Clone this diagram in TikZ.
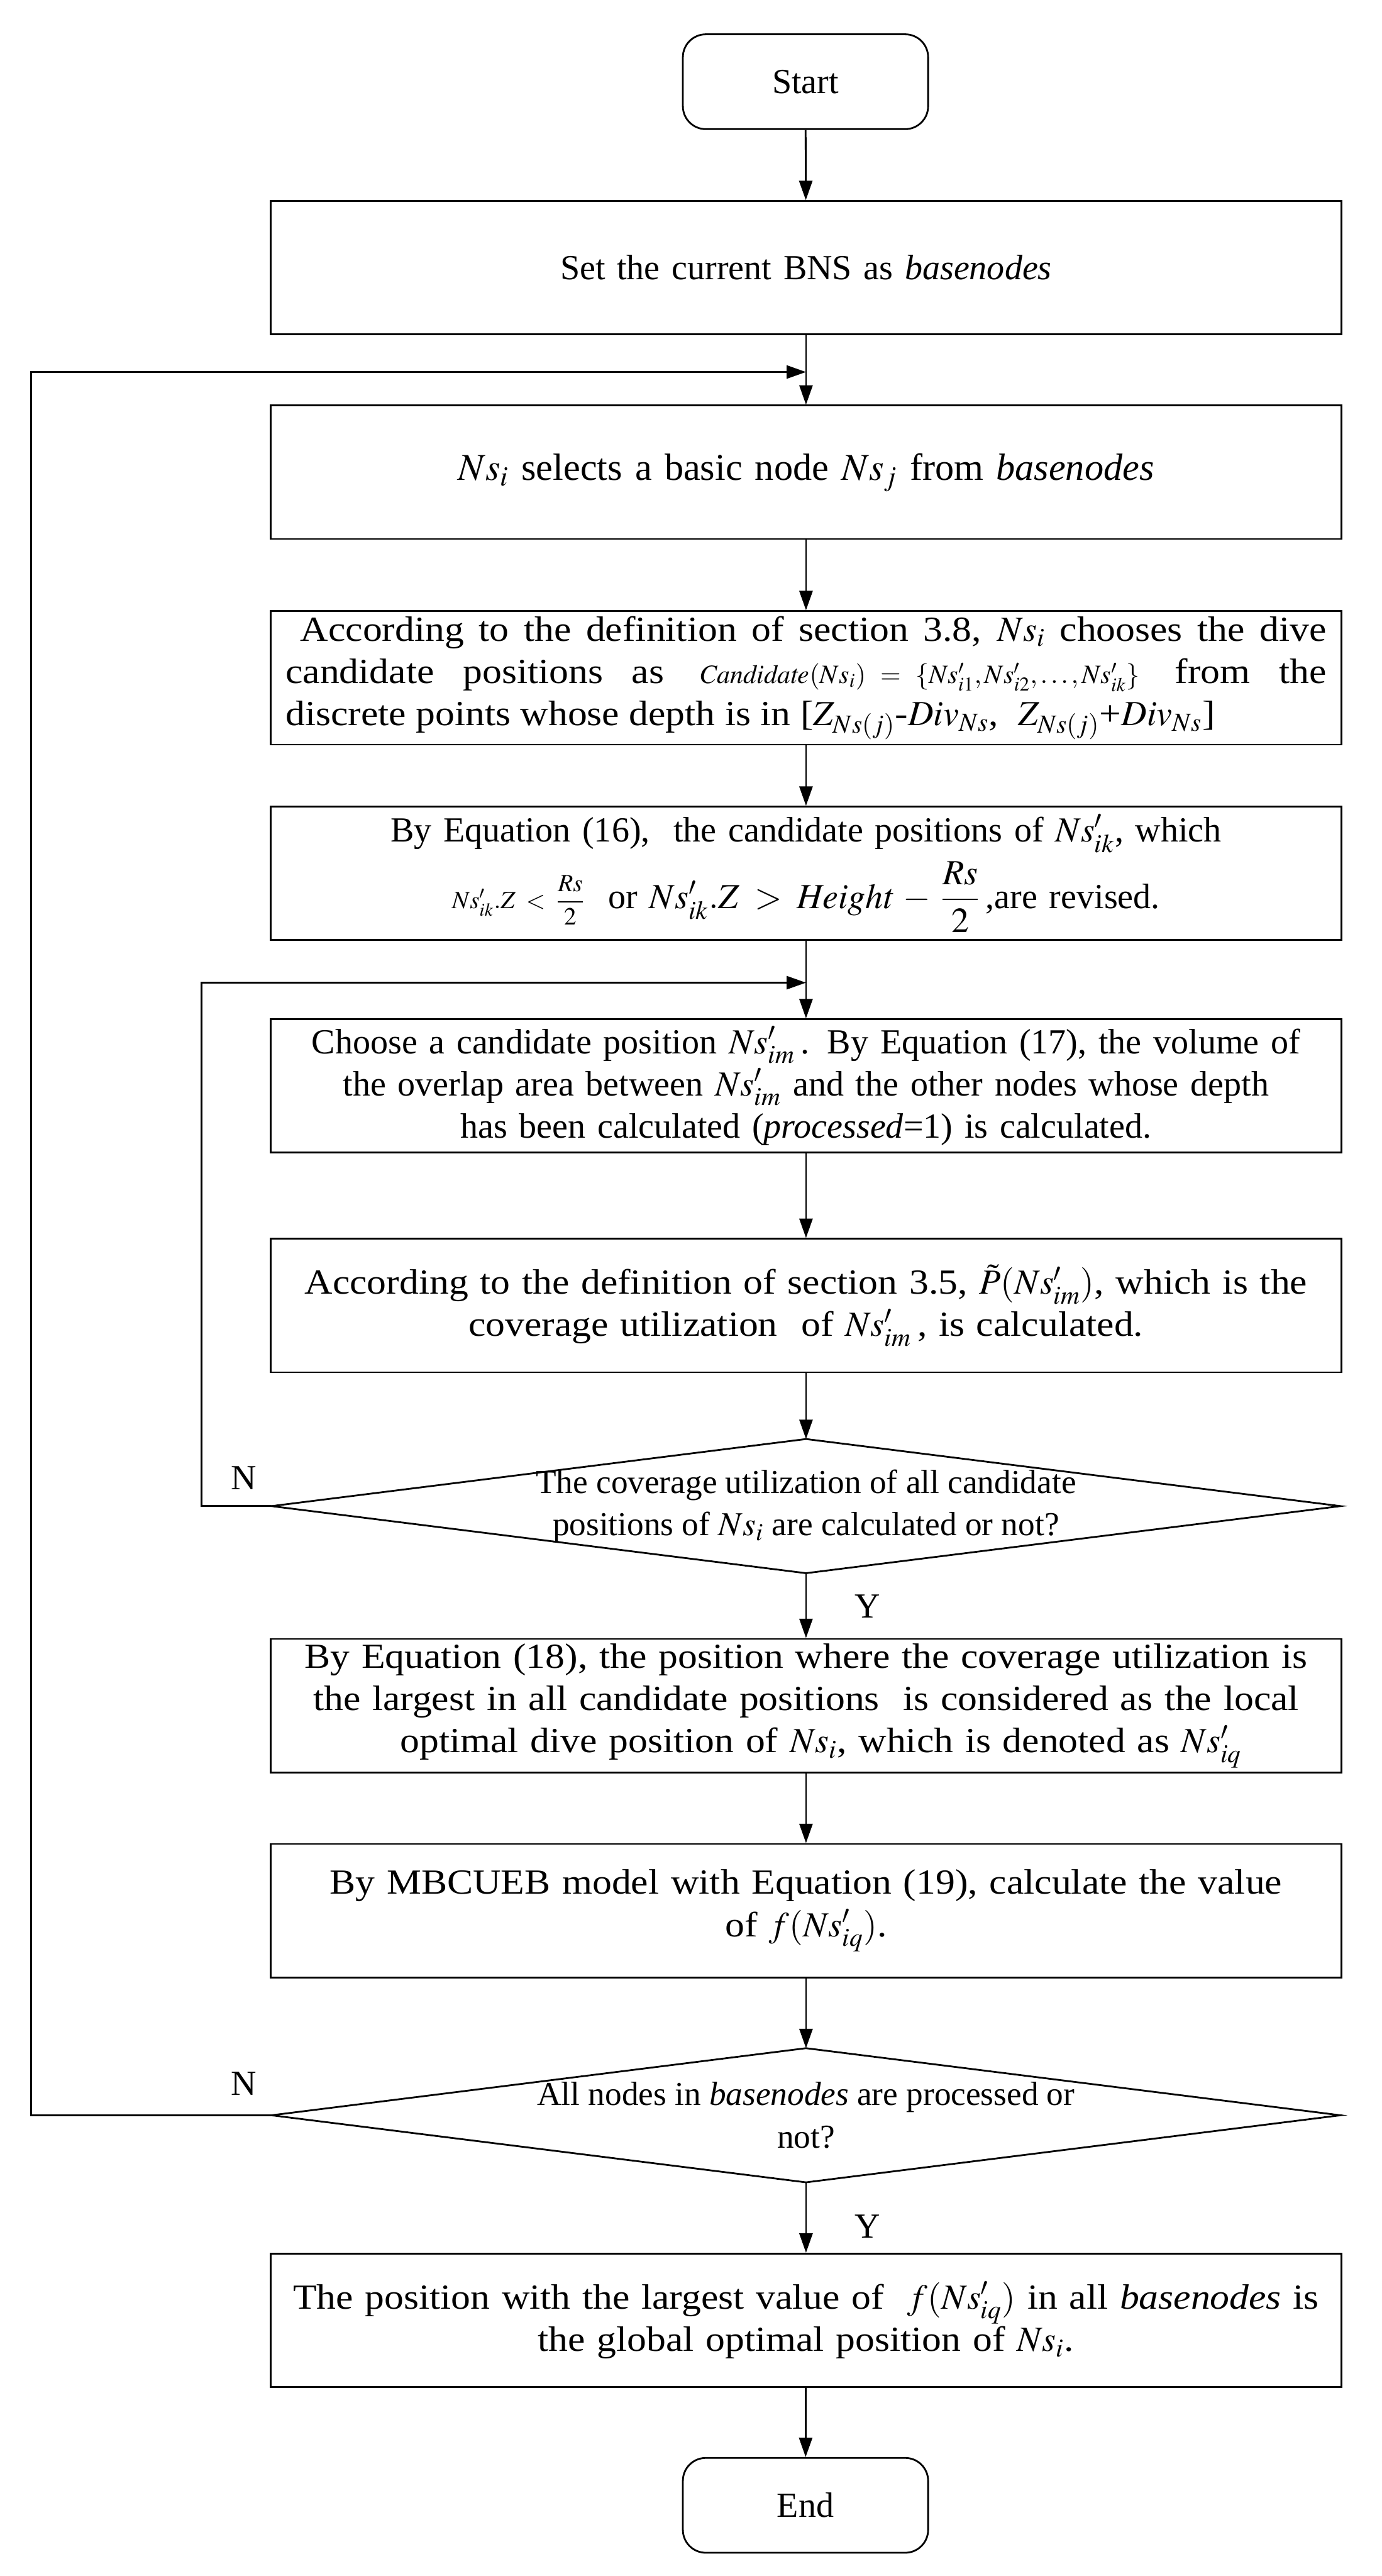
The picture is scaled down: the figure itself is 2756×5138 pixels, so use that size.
\documentclass[tikz,border=0pt]{standalone}
\usepackage{mathptmx}
\usepackage{amsmath}
\usepackage{fontspec}
\setmainfont{Liberation Serif}
\newfontfamily\widefont[FakeStretch=1.1]{Liberation Serif}
\usetikzlibrary{shapes.geometric,arrows.meta}
\begin{document}
\begin{tikzpicture}[x=0.01cm,y=-0.01cm,
  every node/.style={font=\fontsize{20}{24}\selectfont},
  procbox/.style={draw,line width=1pt,minimum width=21.35cm,minimum height=2.66cm,inner sep=0pt,align=center,text width=20.9cm},
  widebox/.style={procbox,font=\widefont\fontsize{20}{24}\selectfont},
  termbox/.style={draw,line width=1pt,rounded corners=13pt,minimum width=4.89cm,minimum height=1.89cm,inner sep=0pt},
  decbox/.style={minimum width=21.3cm,minimum height=2.66cm,inner sep=0pt,align=center,font=\fontsize{19}{24}\selectfont},
  diamondline/.style={line width=1pt,line join=miter},
  arr/.style={line width=1pt,-{Triangle[length=11pt,width=7.5pt]}},
  lbl/.style={font=\fontsize{20}{24}\selectfont}]
\useasboundingbox (0,0) rectangle (2756,5138);

\node[termbox] (start) at (1607,163) {Start};
\node[procbox] (b1) at (1608,534) {Set the current BNS as \textit{basenodes}};
\node[procbox,font=\fontsize{21.5}{24}\selectfont] (b2) at (1608,942) {$Ns_i$ selects a basic node $Ns_j$ from \textit{basenodes}};
\node[widebox,align=justify,text width=20.75cm] (b3) at (1608,1352) {\ According to the definition of section 3.8, $Ns_i$ chooses the dive\linebreak candidate positions as\quad {\fontsize{15}{18}\selectfont $\mathit{Candidate}(Ns_i)=\{Ns'_{i1},Ns'_{i2},\dots,Ns'_{ik}\}$}\quad from the\linebreak discrete points whose depth is in [$Z_{Ns(j)}$-$\mathit{Div}_{Ns}$,\ \ $Z_{Ns(j)}$+$\mathit{Div}_{Ns}$]};
\node[procbox] (b4) at (1608,1742) {By Equation (16),\ \ the candidate positions of $Ns'_{ik}$, which\\[4pt]
  {\fontsize{14}{18}\selectfont $Ns'_{ik}.Z<\dfrac{Rs}{2}$}\ \ or\ $Ns'_{ik}.Z>\mathit{Height}-\dfrac{Rs}{2}$\,,are revised.};
\node[procbox] (b5) at (1608,2166) {Choose a candidate position $Ns'_{im}$\,. By Equation (17), the volume of\\ the overlap area between $Ns'_{im}$ and the other nodes whose depth\\ has been calculated (\textit{processed}=1) is calculated.};
\node[widebox] (b6) at (1608,2604) {According to the definition of section 3.5, $\tilde{P}(Ns'_{im})$, which is the\\ coverage utilization\ \ of $Ns'_{im}$\,, is calculated.};
\node[decbox] (d1) at (1608,3004) {The coverage utilization of all candidate\\ positions of $Ns_i$ are calculated or not?};
\node[widebox] (b7) at (1608,3402) {By Equation (18), the position where the coverage utilization is\\ the largest in all candidate positions\ \ is considered as the local\\ \hspace*{0.6cm}optimal dive position of $Ns_i$, which is denoted as $Ns'_{iq}$};
\node[widebox] (b8) at (1608,3811) {By MBCUEB model with Equation (19), calculate the value\\ of $f(Ns'_{iq})$.};
\node[decbox] (d2) at (1608,4219) {All nodes in \textit{basenodes} are processed or\\ not?};
\node[widebox] (b9) at (1608,4628) {The position with the largest value of\ \ $f(Ns'_{iq})$ in all \textit{basenodes} is\\ the global optimal position of $Ns_i$.};
\node[termbox] (end) at (1607,4997) {End};

\draw[diamondline] (d1.north) -- (d1.east) -- (d1.south) -- (d1.west) -- cycle;
\draw[diamondline] (d2.north) -- (d2.east) -- (d2.south) -- (d2.west) -- cycle;

\coordinate (j1) at (1608,742);
\coordinate (j2) at (1608,1960);
\coordinate (c1) at (402,3004);
\coordinate (c2) at (62,4219);

\draw[arr] (start) -- (b1);
\draw[arr] (b1) -- (b2);
\draw[arr] (b2) -- (b3);
\draw[arr] (b3) -- (b4);
\draw[arr] (b4) -- (b5);
\draw[arr] (b5) -- (b6);
\draw[arr] (b6) -- (d1.north);
\draw[arr] (d1.south) -- (b7);
\draw[arr] (b7) -- (b8);
\draw[arr] (b8) -- (d2.north);
\draw[arr] (d2.south) -- (b9);
\draw[arr] (b9) -- (end);

\draw[arr] (d1.west) -- (c1) |- (j2);
\draw[arr] (d2.west) -- (c2) |- (j1);

\node[lbl] (n1) at (487,2948) {N};
\node[lbl] (n2) at (487,4156) {N};
\node[lbl] (y1) at (1731,3204) {Y};
\node[lbl] (y2) at (1731,4441) {Y};
\end{tikzpicture}
\end{document}
